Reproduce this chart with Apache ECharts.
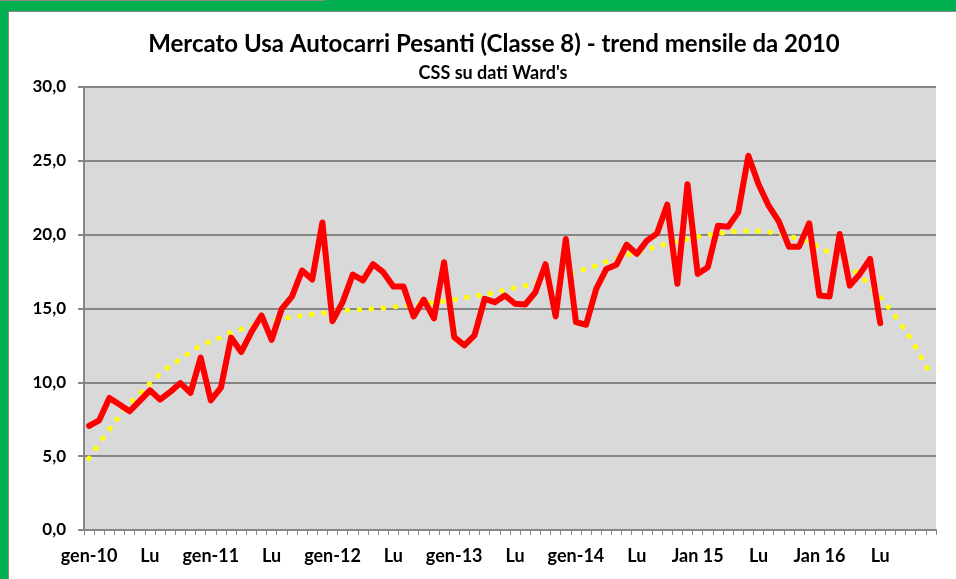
<!DOCTYPE html>
<html>
<head>
<meta charset="utf-8">
<script src="https://cdn.jsdelivr.net/npm/echarts@6/dist/echarts.min.js"></script>
<style>
html,body{margin:0;padding:0;background:#fff;}
#c{width:956px;height:579px;}
</style>
</head>
<body>
<div id="c"></div>
<script>
const categories = [
'gen-10','feb-10','mar-10','apr-10','mag-10','giu-10','lug-10','ago-10','set-10','ott-10','nov-10','dic-10',
'gen-11','feb-11','mar-11','apr-11','mag-11','giu-11','lug-11','ago-11','set-11','ott-11','nov-11','dic-11',
'gen-12','feb-12','mar-12','apr-12','mag-12','giu-12','lug-12','ago-12','set-12','ott-12','nov-12','dic-12',
'gen-13','feb-13','mar-13','apr-13','mag-13','giu-13','lug-13','ago-13','set-13','ott-13','nov-13','dic-13',
'gen-14','feb-14','mar-14','apr-14','mag-14','giu-14','lug-14','ago-14','set-14','ott-14','nov-14','dic-14',
'gen-15','feb-15','mar-15','apr-15','mag-15','giu-15','lug-15','ago-15','set-15','ott-15','nov-15','dic-15',
'gen-16','feb-16','mar-16','apr-16','mag-16','giu-16','lug-16','ago-16','set-16','ott-16','nov-16','dic-16'
];
const tickLabels = ['gen-10','Lu','gen-11','Lu','gen-12','Lu','gen-13','Lu','gen-14','Lu','Jan 15','Lu','Jan 16','Lu'];
const sales = [
7.05,7.43,8.94,8.5,8.04,8.75,9.46,8.83,9.35,9.95,9.28,11.67,
8.78,9.64,13.03,12.05,13.4,14.53,12.88,14.98,15.81,17.57,16.96,20.83,
14.14,15.43,17.3,16.9,18.0,17.46,16.49,16.49,14.46,15.6,14.33,18.13,
13.06,12.5,13.18,15.65,15.43,15.88,15.32,15.27,16.1,18.0,14.46,19.7,
14.08,13.9,16.33,17.68,17.97,19.32,18.7,19.6,20.09,22.03,16.67,23.42,
17.34,17.79,20.61,20.54,21.51,25.34,23.42,21.96,20.9,19.19,19.19,20.77,
15.88,15.81,20.05,16.55,17.34,18.36,14.01
];
const trend = [
4.85,5.85,6.8,7.7,8.55,9.25,9.93,10.55,11.13,11.58,12.05,12.48,
12.78,13.05,13.38,13.6,13.8,13.98,14.15,14.29,14.41,14.52,14.6,14.68,
14.77,14.85,14.9,14.93,14.97,15.03,15.1,15.16,15.25,15.32,15.4,15.5,
15.6,15.73,15.84,15.95,16.08,16.25,16.4,16.55,16.7,16.9,17.07,17.28,
17.47,17.7,17.9,18.17,18.38,18.6,18.8,19.0,19.18,19.39,19.56,19.7,
19.85,19.97,20.07,20.16,20.23,20.25,20.24,20.18,20.06,19.9,19.7,19.47,
19.14,18.78,18.34,17.83,17.21,16.56,15.77,14.9,13.97,12.95,11.75,10.55
];
const titleText = 'Mercato Usa Autocarri Pesanti (Classe 8) - trend mensile da 2010';
const subtitleText = "CSS su dati Ward's";

const chart = echarts.init(document.getElementById('c'), null, {renderer:'canvas'});
const FONT = 'Lato';
chart.setOption({
  backgroundColor: '#ffffff',
  animation: false,
  title: [
    {text: titleText, left: 489, textAlign:'center', top: 27, textStyle:{fontFamily:FONT, fontWeight:'bold', fontSize:24, color:'#000'}},
    {text: subtitleText, left: 488, textAlign:'center', top: 59, textStyle:{fontFamily:FONT, fontWeight:'bold', fontSize:18, color:'#000'}}
  ],
  graphic: [
    {type:'rect', shape:{x:0,y:0,width:956,height:11}, style:{fill:'#00B050'}, silent:true},
    {type:'rect', shape:{x:0,y:0,width:8,height:579}, style:{fill:'#00B050'}, silent:true},
    {type:'line', shape:{x1:8,y1:11.5,x2:956,y2:11.5}, style:{stroke:'#8c8c8c', lineWidth:1}, silent:true},
    {type:'line', shape:{x1:8.5,y1:11,x2:8.5,y2:579}, style:{stroke:'#8c8c8c', lineWidth:1}, silent:true},
    {type:'line', shape:{x1:0,y1:0.5,x2:325,y2:0.5}, style:{stroke:'#8c8c8c', lineWidth:1}, silent:true}
  ],
  grid: {left:84, right:20, top:87, bottom:49, show:true, backgroundColor:'#D9D9D9', borderWidth:0},
  xAxis: {
    type:'category', data: categories, boundaryGap:true,
    axisLine:{show:true, lineStyle:{color:'#868686', width:2}},
    axisTick:{show:true, interval:0, length:5, lineStyle:{color:'#868686', width:1}},
    axisLabel:{
      interval: function(idx){ return idx % 6 === 0; },
      formatter: function(v, idx){ return idx % 6 === 0 ? tickLabels[idx/6] : ''; },
      fontFamily:FONT, fontWeight:'bold', fontSize:18, color:'#000', margin:17
    },
    splitLine:{show:false}
  },
  yAxis: {
    type:'value', min:0, max:30, interval:5,
    axisLine:{show:true, lineStyle:{color:'#868686', width:2}},
    axisTick:{show:true, length:6, lineStyle:{color:'#868686', width:2}},
    axisLabel:{formatter: function(v){ return v.toFixed(1).replace('.', ','); }, fontFamily:FONT, fontWeight:'bold', fontSize:17, color:'#000', margin:18},
    splitLine:{show:true, lineStyle:{color:'#868686', width:2}}
  },
  series: [
    {type:'line', data: trend, showSymbol:false, smooth:true, z:2,
     lineStyle:{color:'#FFFF00', width:5, type:[0.5, 11.5], cap:'round'}},
    {type:'line', data: sales, showSymbol:false, smooth:false, z:3,
     lineStyle:{color:'#FF0000', width:6, cap:'round', join:'round'}}
  ]
});
</script>
</body>
</html>
